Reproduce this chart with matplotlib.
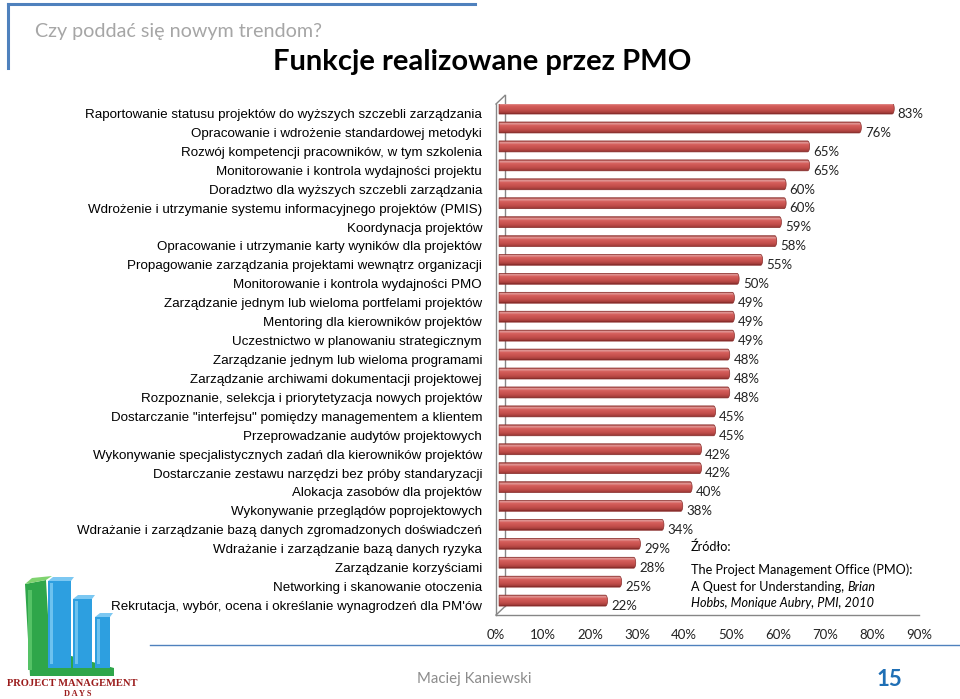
"""
Funkcje realizowane przez PMO - slajd z wykresem słupkowym 3D
"""

import numpy as np
import matplotlib.pyplot as plt
from matplotlib.path import Path
from matplotlib.patches import PathPatch, Polygon, Rectangle
from matplotlib.colors import LinearSegmentedColormap


# ── Dane ─────────────────────────────────────────────────────────────────────

functions = [
    'Raportowanie statusu projektów do wyższych szczebli zarządzania',
    'Opracowanie i wdrożenie standardowej metodyki',
    'Rozwój kompetencji pracowników, w tym szkolenia',
    'Monitorowanie i kontrola wydajności projektu',
    'Doradztwo dla wyższych szczebli zarządzania',
    'Wdrożenie i utrzymanie systemu informacyjnego projektów (PMIS)',
    'Koordynacja projektów',
    'Opracowanie i utrzymanie karty wyników dla projektów',
    'Propagowanie zarządzania projektami wewnątrz organizacji',
    'Monitorowanie i kontrola wydajności PMO',
    'Zarządzanie jednym lub wieloma portfelami projektów',
    'Mentoring dla kierowników projektów',
    'Uczestnictwo w planowaniu strategicznym',
    'Zarządzanie jednym lub wieloma programami',
    'Zarządzanie archiwami dokumentacji projektowej',
    'Rozpoznanie, selekcja i priorytetyzacja nowych projektów',
    'Dostarczanie "interfejsu" pomiędzy managementem a klientem',
    'Przeprowadzanie audytów projektowych',
    'Wykonywanie specjalistycznych zadań dla kierowników projektów',
    'Dostarczanie zestawu narzędzi bez próby standaryzacji',
    'Alokacja zasobów dla projektów',
    'Wykonywanie przeglądów poprojektowych',
    'Wdrażanie i zarządzanie bazą danych zgromadzonych doświadczeń',
    'Wdrażanie i zarządzanie bazą danych ryzyka',
    'Zarządzanie korzyściami',
    'Networking i skanowanie otoczenia',
    "Rekrutacja, wybór, ocena i określanie wynagrodzeń dla PM'ów",
]

shares = [83, 76, 65, 65, 60, 60, 59, 58, 55, 50, 49, 49, 49, 48, 48, 48,
          45, 45, 42, 42, 40, 38, 34, 29, 28, 25, 22]

x_ticks = list(range(0, 100, 10))
x_tick_labels = [f'{t}%' for t in x_ticks]

# ── Styl ─────────────────────────────────────────────────────────────────────

W, H = 960, 699
BAR_H = 0.58
BAR_DX, BAR_DY = 0.65, 0.26      # przesunięcie słupków "w głąb"
WALL_DX, WALL_DY = 1.9, 0.45     # tylna ściana wykresu
CAP = 0.45                       # zaokrąglenie końca walca
FRAME = '#868686'

bar_cmap = LinearSegmentedColormap.from_list('walec', [
    (0.00, '#a13c39'), (0.12, '#e6a3a1'), (0.30, '#d65f5c'),
    (0.65, '#c44f4c'), (0.88, '#a83f3c'), (1.00, '#7e2826')])
grad = np.linspace(0, 1, 64).reshape(-1, 1)


def cylinder_path(left, right, yc, h, cap):
    """Prostokąt z zaokrąglonym prawym końcem (półelipsa)."""
    t = np.linspace(-np.pi / 2, np.pi / 2, 16)
    xs = [left] + list(right + cap * np.cos(t)) + [left]
    ys = [yc - h / 2] + list(yc + h / 2 * np.sin(t)) + [yc + h / 2]
    verts = list(zip(xs, ys)) + [(left, yc - h / 2)]
    codes = [Path.MOVETO] + [Path.LINETO] * (len(verts) - 2) + [Path.CLOSEPOLY]
    return Path(verts, codes)


fig = plt.figure(figsize=(W / 100, H / 100), dpi=100)
fig.patch.set_facecolor('white')

# Warstwa dekoracyjna w pikselach slajdu
deco = fig.add_axes([0, 0, 1, 1])
deco.set_xlim(0, W)
deco.set_ylim(H, 0)
deco.axis('off')

deco.plot([8, 475], [4, 4], color='#4f81bd', lw=2.2)
deco.plot([8, 8], [4, 68], color='#4f81bd', lw=2.2)
deco.plot([150, 960], [645, 645], color='#4f81bd', lw=1.0)

deco.text(35, 31, 'Czy poddać się nowym trendom?', fontsize=14.2,
          family='Lato', color='#a6a6a6', va='center', ha='left')
deco.text(482, 62, 'Funkcje realizowane przez PMO', fontsize=21,
          family='Lato', fontweight='bold', color='black',
          va='center', ha='center')
deco.text(417, 679, 'Maciej Kaniewski', fontsize=10.8, family='Lato',
          color='#8c8c8c', va='center', ha='left')
deco.text(889, 679, '15', fontsize=16, family='Lato', fontweight='bold',
          color='#1f6fb5', va='center', ha='center')

# Logo (uproszczone)
deco.add_patch(Polygon([(25, 584), (46, 580), (50, 650), (114, 668),
                        (114, 676), (30, 676)], closed=True,
                       facecolor='#2fa64a', edgecolor='none'))
deco.add_patch(Polygon([(25, 584), (32, 578), (52, 576), (46, 580)],
                       closed=True, facecolor='#7fd36f', edgecolor='none'))
deco.add_patch(Rectangle((28, 590), 4, 80, facecolor='#55c266',
                         edgecolor='none'))
for x0, x1, top in [(48, 71, 581), (73, 92, 599), (95, 110, 617)]:
    deco.add_patch(Rectangle((x0, top), x1 - x0, 668 - top,
                             facecolor='#2d9fe0', edgecolor='none'))
    deco.add_patch(Polygon([(x0, top), (x0 + 5, top - 4), (x1 + 3, top - 4),
                            (x1, top)], closed=True,
                           facecolor='#7cc8f2', edgecolor='none'))
    deco.add_patch(Rectangle((x0 + 2, top + 2), 3, 668 - top - 6,
                             facecolor='#6cc2ef', edgecolor='none'))
deco.text(72, 684, 'PROJECT MANAGEMENT', fontsize=7.6,
          family='Liberation Serif', fontweight='bold', color='#9b1c1c',
          va='center', ha='center')
deco.text(78, 694, 'D A Y S', fontsize=6, family='Liberation Serif',
          fontweight='bold', color='#9b1c1c', va='center', ha='center')

# ── Wykres ───────────────────────────────────────────────────────────────────

ax = fig.add_axes([496 / W, 1 - 615 / H, (919 - 496) / W, (615 - 104) / H])
ax.set_facecolor('none')

n = len(functions)
ypos = np.arange(n)

for y, v in zip(ypos, shares):
    path = cylinder_path(BAR_DX, v + 1.28, y - BAR_DY, BAR_H, CAP)
    patch = PathPatch(path, facecolor='none', edgecolor='#8a2e2c',
                      lw=0.5, zorder=3)
    ax.add_patch(patch)
    im = ax.imshow(grad, extent=(BAR_DX, v + 1.28 + CAP,
                                 y - BAR_DY + BAR_H / 2,
                                 y - BAR_DY - BAR_H / 2),
                   cmap=bar_cmap, aspect='auto', zorder=2,
                   interpolation='bilinear')
    im.set_clip_path(patch)
    ax.text(v + 2.5, y + 0.02, f'{v}%', fontsize=9.5, family='Lato',
            color='#222222', va='center', ha='left')

# Rama 3D
ax.plot([WALL_DX, WALL_DX], [-0.5 - WALL_DY, n - 0.5 - WALL_DY],
        color=FRAME, lw=1.0, clip_on=False, zorder=1)
ax.plot([0, WALL_DX], [-0.5, -0.5 - WALL_DY], color=FRAME, lw=1.0,
        clip_on=False, zorder=1)
ax.plot([0, WALL_DX], [n - 0.5, n - 0.5 - WALL_DY], color=FRAME, lw=1.0,
        clip_on=False, zorder=1)

ax.set_xlim(0, 90)
ax.set_ylim(n - 0.5, -0.5)
ax.set_xticks(x_ticks)
ax.set_xticklabels(x_tick_labels, fontsize=9.5, family='Lato',
                   color='#222222')
ax.set_yticks(ypos)
ax.set_yticklabels(functions, fontsize=9.6, family='Liberation Sans',
                   color='black')
ax.tick_params(axis='x', length=0, pad=10)
ax.tick_params(axis='y', length=0, pad=10)
for side in ['top', 'right']:
    ax.spines[side].set_visible(False)
for side in ['left', 'bottom']:
    ax.spines[side].set_color(FRAME)
    ax.spines[side].set_linewidth(1.0)

# Źródło
src_x = 691
src_fs = 9.1
deco.text(src_x, 547, 'Źródło:', fontsize=src_fs, family='Lato',
          va='center', ha='left')
deco.text(src_x, 570, 'The Project Management Office (PMO):', fontsize=src_fs,
          family='Lato', va='center', ha='left')
t = deco.text(src_x, 587, 'A Quest for Understanding, ', fontsize=src_fs,
              family='Lato', va='center', ha='left')
renderer = fig.canvas.get_renderer()
bb = t.get_window_extent(renderer=renderer)
x_end = deco.transData.inverted().transform((bb.x1, bb.y0))[0]
deco.text(x_end, 587, 'Brian', fontsize=src_fs, family='Lato', style='italic',
          va='center', ha='left')
deco.text(src_x, 603, 'Hobbs, Monique Aubry, PMI, 2010', fontsize=src_fs,
          family='Lato', style='italic', va='center', ha='left')

plt.savefig('out.png', dpi=100)
